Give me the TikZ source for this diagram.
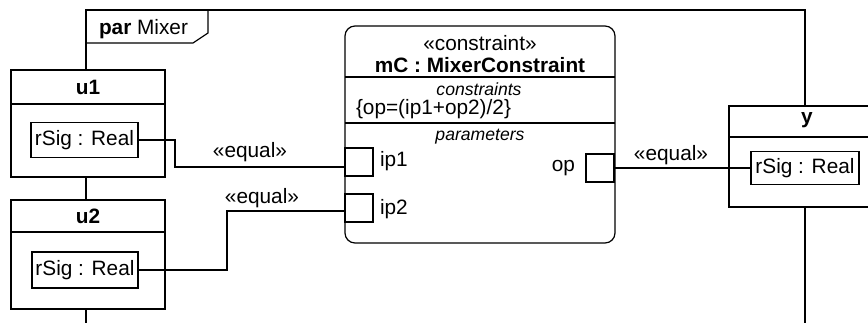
\documentclass[tikz,border=0pt]{standalone}
\usepackage{fontspec}
\setmainfont{Liberation Sans}
\begin{document}
\begin{tikzpicture}[x=1pt,y=-1pt,
  every node/.style={font=\fontsize{20.8}{24}\selectfont, inner sep=0pt, outer sep=0pt},
  ln/.style={line width=1.2pt, line join=miter},
  box/.style={draw, line width=1.2pt, fill=white, rectangle},
  bold/.style={font=\fontsize{20.8}{24}\selectfont\bfseries},
  ital/.style={font=\fontsize{17.6}{20}\selectfont\itshape},
  port/.style={box, minimum width=28pt, minimum height=28pt},
]
\useasboundingbox (0,0) rectangle (868,322);
\fill[white] (0,0) rectangle (868,322);
\clip (0,0) rectangle (868,322);
% frame
\draw[ln] (86,330) -- (86,10) -- (805,10) -- (805,330);
\draw[ln] (86,43) -- (193,43) -- (208,33) -- (208,10);
\node[anchor=west] (tab) at (99,29) {\textbf{par} Mixer};
% u1
\node[box, minimum width=154pt, minimum height=107pt] (u1) at (88,123.5) {};
\draw[ln] (11,104) -- (165,104);
\node[bold] (u1t) at (88,87) {u1};
\node[box, minimum width=107pt, minimum height=35pt] (rs1) at (84.5,140) {rSig : Real};
% u2
\node[box, minimum width=154pt, minimum height=109pt] (u2) at (88,254.5) {};
\draw[ln] (11,232) -- (165,232);
\node[bold] (u2t) at (88,216) {u2};
\node[box, minimum width=106pt, minimum height=36pt] (rs2) at (85,270) {rSig : Real};
% y
\node[box, minimum width=156pt, minimum height=101pt] (yb) at (807,156.5) {};
\draw[ln] (729,137) -- (885,137);
\node[bold] (yt) at (807,120) {y};
\node[box, minimum width=108pt, minimum height=33pt] (rs3) at (805,168) {rSig : Real};
% constraint block
\node[box, rounded corners=10pt, minimum width=270pt, minimum height=217pt] (mc) at (480,134.5) {};
\draw[ln] (345,77) -- (615,77);
\draw[ln] (345,123) -- (615,123);
\node (st) at (480,43) {«constraint»};
\node[bold] (mct) at (480,65) {mC : MixerConstraint};
\node[ital] (cs) at (479,89) {constraints};
\node[anchor=west] (eq) at (356,109.5) {\{op=(ip1+op2)/2\}};
\node[ital] (pa) at (480,137) {parameters};
\node[port] (ip1) at (359,162) {};
\node[port] (ip2) at (359,208) {};
\node[port] (op) at (600,168) {};
\node[anchor=west] (ip1l) at (380,161) {ip1};
\node[anchor=west] (ip2l) at (380,209) {ip2};
\node[anchor=east] (opl) at (575,168) {op};
% connectors
\draw[ln] (rs1.east) -- ++(37,0) |- ([yshift=-5pt]ip1.west);
\draw[ln] (rs2.east) -- ++(89,0) |- ([yshift=-3pt]ip2.west);
\draw[ln] (op.east) -- (rs3.west);
\node (e1) at (250,152) {«equal»};
\node (e2) at (262,198) {«equal»};
\node (e3) at (671,155) {«equal»};
\end{tikzpicture}
\end{document}
